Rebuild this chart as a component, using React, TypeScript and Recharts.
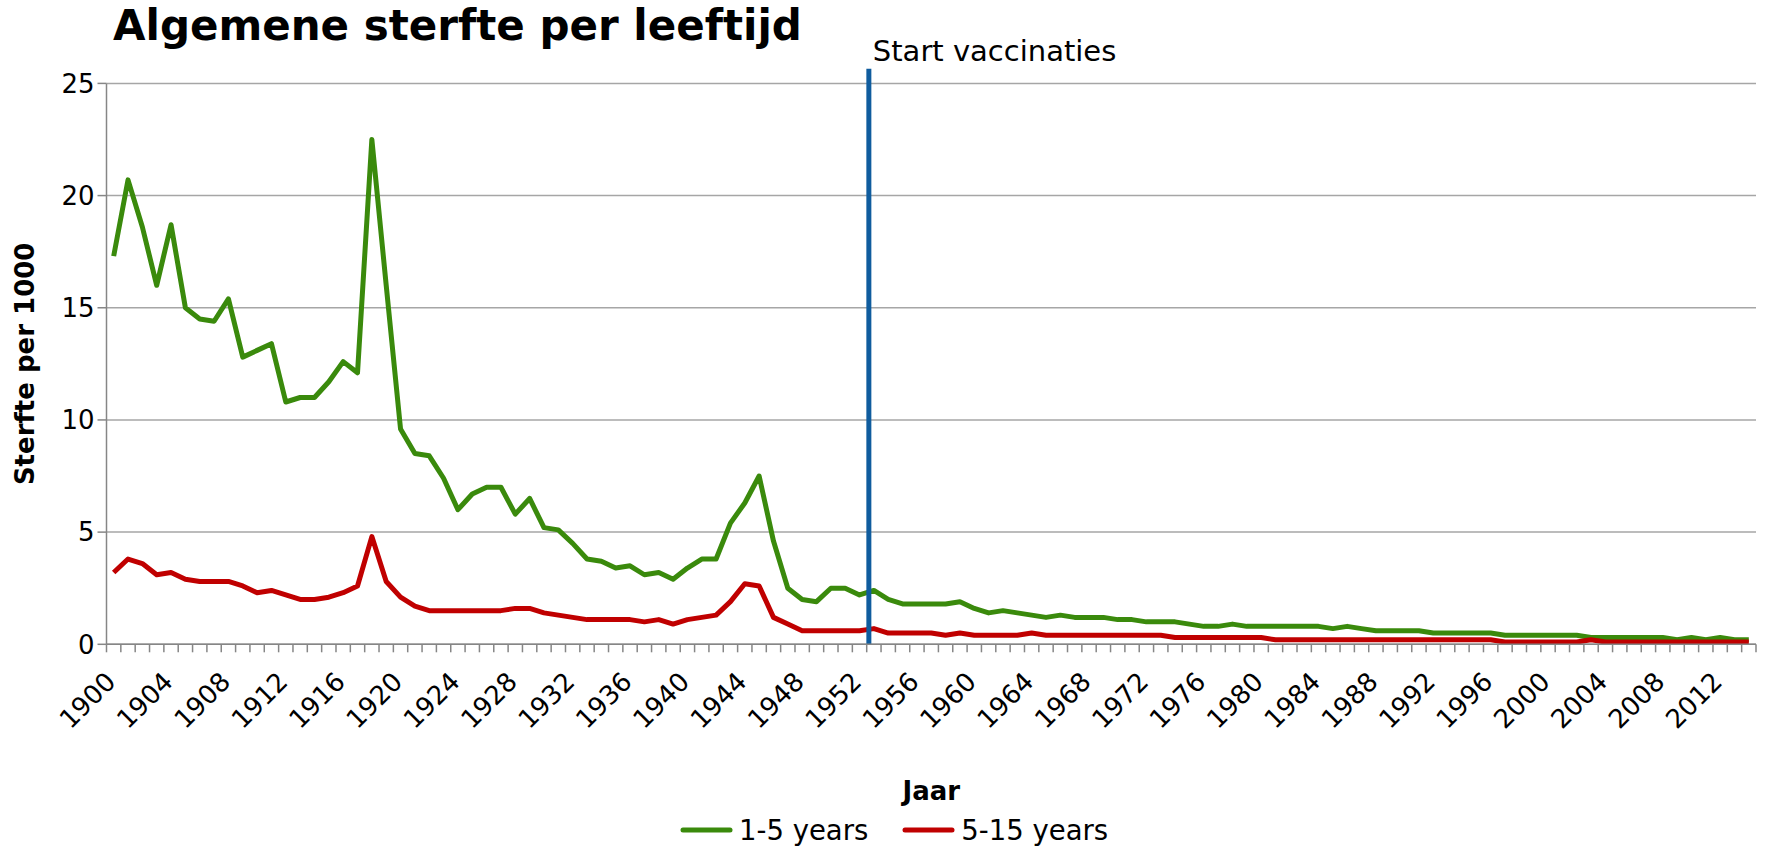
import { LineChart, Line, XAxis, YAxis, CartesianGrid, ReferenceLine, Legend } from 'recharts'

// Mortality per 1000 (1900 - 2014)
const YEARS: number[] = Array.from({ length: 115 }, (_, i) => 1900 + i)

const AGE_1_5 = [
  17.3, 20.7, 18.6, 16.0, 18.7, 15.0, 14.5, 14.4, 15.4, 12.8,
  13.1, 13.4, 10.8, 11.0, 11.0, 11.7, 12.6, 12.1, 22.5, 16.0,
  9.6, 8.5, 8.4, 7.4, 6.0, 6.7, 7.0, 7.0, 5.8, 6.5,
  5.2, 5.1, 4.5, 3.8, 3.7, 3.4, 3.5, 3.1, 3.2, 2.9,
  3.4, 3.8, 3.8, 5.4, 6.3, 7.5, 4.6, 2.5, 2.0, 1.9,
  2.5, 2.5, 2.2, 2.4, 2.0, 1.8, 1.8, 1.8, 1.8, 1.9,
  1.6, 1.4, 1.5, 1.4, 1.3, 1.2, 1.3, 1.2, 1.2, 1.2,
  1.1, 1.1, 1.0, 1.0, 1.0, 0.9, 0.8, 0.8, 0.9, 0.8,
  0.8, 0.8, 0.8, 0.8, 0.8, 0.7, 0.8, 0.7, 0.6, 0.6,
  0.6, 0.6, 0.5, 0.5, 0.5, 0.5, 0.5, 0.4, 0.4, 0.4,
  0.4, 0.4, 0.4, 0.3, 0.3, 0.3, 0.3, 0.3, 0.3, 0.2,
  0.3, 0.2, 0.3, 0.2, 0.2,
]

const AGE_5_15 = [
  3.2, 3.8, 3.6, 3.1, 3.2, 2.9, 2.8, 2.8, 2.8, 2.6,
  2.3, 2.4, 2.2, 2.0, 2.0, 2.1, 2.3, 2.6, 4.8, 2.8,
  2.1, 1.7, 1.5, 1.5, 1.5, 1.5, 1.5, 1.5, 1.6, 1.6,
  1.4, 1.3, 1.2, 1.1, 1.1, 1.1, 1.1, 1.0, 1.1, 0.9,
  1.1, 1.2, 1.3, 1.9, 2.7, 2.6, 1.2, 0.9, 0.6, 0.6,
  0.6, 0.6, 0.6, 0.7, 0.5, 0.5, 0.5, 0.5, 0.4, 0.5,
  0.4, 0.4, 0.4, 0.4, 0.5, 0.4, 0.4, 0.4, 0.4, 0.4,
  0.4, 0.4, 0.4, 0.4, 0.3, 0.3, 0.3, 0.3, 0.3, 0.3,
  0.3, 0.2, 0.2, 0.2, 0.2, 0.2, 0.2, 0.2, 0.2, 0.2,
  0.2, 0.2, 0.2, 0.2, 0.2, 0.2, 0.2, 0.1, 0.1, 0.1,
  0.1, 0.1, 0.1, 0.2, 0.1, 0.1, 0.1, 0.1, 0.1, 0.1,
  0.1, 0.1, 0.1, 0.1, 0.1,
]

const Y_TICKS = [0, 5, 10, 15, 20, 25]
const LABEL_YEARS = YEARS.filter((_, i) => i % 4 === 0)
// tick marks sit between the categories
const BOUNDARIES = [...YEARS.map((y) => y - 0.5), YEARS[YEARS.length - 1] + 0.5]
const VACCINATION_START = 1952.65

const FONT = "'DejaVu Sans', Verdana, sans-serif"
const GREEN = '#3a8a0c'
const RED = '#c00000'
const BLUE = '#0f5c9e'
const AXIS_GRAY = '#868686'

const chartData = YEARS.map((year, i) => ({
  year,
  young: AGE_1_5[i],
  older: AGE_5_15[i],
}))

// the minor axis only shows its tick marks
function NoLabel() {
  return <g />
}

function YearTick(props: { x?: number; y?: number; payload?: { value: number } }) {
  const { x = 0, y = 0, payload } = props
  return (
    <g transform={`translate(${x + 3.5},${y + 38}) rotate(-45)`}>
      <text textAnchor="end" fill="#000" fontSize={26} fontFamily={FONT}>
        {payload?.value}
      </text>
    </g>
  )
}

function VaccinationLabel(props: { viewBox?: { x: number; y: number } }) {
  const { x = 0, y = 0 } = props.viewBox ?? {}
  return (
    <text x={x + 4} y={y - 8} fill="#000" fontSize={29} fontFamily={FONT}>
      Start vaccinaties
    </text>
  )
}

function LegendContent(props: { payload?: Array<{ value: string; color: string }> }) {
  const items = props.payload ?? []
  return (
    <div
      style={{
        display: 'flex',
        alignItems: 'center',
        height: 30,
        paddingLeft: 680,
        fontFamily: FONT,
        fontSize: 27.5,
        color: '#000',
      }}
    >
      {items.map((item) => (
        <div key={item.value} style={{ display: 'flex', alignItems: 'center', marginRight: 34 }}>
          <svg width={53} height={10}>
            <line x1={3} y1={5} x2={50} y2={5} stroke={item.color} strokeWidth={5} strokeLinecap="round" />
          </svg>
          <span style={{ marginLeft: 6 }}>{item.value}</span>
        </div>
      ))}
    </div>
  )
}

export default function App() {
  return (
    <div style={{ position: 'absolute', left: 0, top: 0, width: 1767, height: 847, background: '#fff' }}>
      <div
        style={{
          position: 'absolute',
          left: 113,
          top: 5,
          fontFamily: FONT,
          fontWeight: 'bold',
          fontSize: 42,
          lineHeight: '42px',
          color: '#000',
          whiteSpace: 'nowrap',
        }}
      >
        Algemene sterfte per leeftijd
      </div>
      <LineChart
        width={1767}
        height={847}
        data={chartData}
        margin={{ top: 83.4, right: 11, left: 0, bottom: 21.7 }}
        style={{ fontFamily: FONT }}
      >
        <CartesianGrid vertical={false} stroke="#a6a6a6" strokeWidth={1.5} />

        {/* minor tick marks between the years */}
        <XAxis
          dataKey="year"
          type="number"
          domain={[1899.5, 2014.5]}
          ticks={BOUNDARIES}
          interval={0}
          tick={<NoLabel />}
          tickLine={{ stroke: AXIS_GRAY, strokeWidth: 1.5 }}
          tickSize={8}
          height={1}
          stroke={AXIS_GRAY}
          strokeWidth={1.5}
          allowDataOverflow
        />

        {/* year labels, every 4th year */}
        <XAxis
          xAxisId="labels"
          dataKey="year"
          type="number"
          domain={[1899.5, 2014.5]}
          ticks={LABEL_YEARS}
          interval={0}
          axisLine={false}
          tickLine={false}
          tickSize={0}
          tickMargin={0}
          height={150}
          tick={<YearTick />}
          allowDataOverflow
          label={{
            value: 'Jaar',
            position: 'insideBottom',
            offset: -5,
            fill: '#000',
            fontSize: 26,
            fontWeight: 'bold',
            fontFamily: FONT,
          }}
        />

        <YAxis
          domain={[0, 25]}
          ticks={Y_TICKS}
          width={106.5}
          tickSize={9}
          tickMargin={3}
          stroke={AXIS_GRAY}
          strokeWidth={1.5}
          tick={{ fill: '#000', fontSize: 26, fontFamily: FONT }}
          label={{
            value: 'Sterfte per 1000',
            angle: -90,
            position: 'insideLeft',
            offset: 25,
            fill: '#000',
            fontSize: 26,
            fontWeight: 'bold',
            fontFamily: FONT,
            style: { textAnchor: 'middle' },
          }}
        />

        <Legend
          verticalAlign="bottom"
          content={<LegendContent />}
          wrapperStyle={{ left: 0, bottom: 2, width: 1767 }}
        />

        <Line
          dataKey="young"
          name="1-5 years"
          stroke={GREEN}
          strokeWidth={5}
          strokeLinejoin="round"
          dot={false}
          isAnimationActive={false}
        />
        <Line
          dataKey="older"
          name="5-15 years"
          stroke={RED}
          strokeWidth={5}
          strokeLinejoin="round"
          dot={false}
          isAnimationActive={false}
        />

        <ReferenceLine
          segment={[
            { x: VACCINATION_START, y: 0 },
            { x: VACCINATION_START, y: 25.65 },
          ]}
          stroke={BLUE}
          strokeWidth={5}
          ifOverflow="visible"
          label={<VaccinationLabel />}
        />
      </LineChart>
    </div>
  )
}
